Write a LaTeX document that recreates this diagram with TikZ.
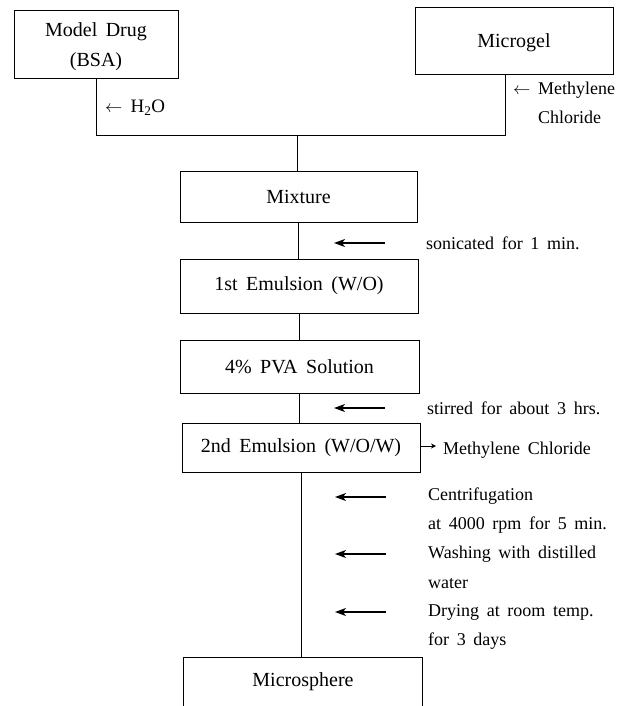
\documentclass[tikz,border=0pt]{standalone}
\usepackage{fontspec}
\setmainfont{Liberation Serif}[WordSpace=1.7]
\usetikzlibrary{arrows.meta}
\begin{document}
\begin{tikzpicture}[x=1pt,y=-1pt,
  box/.style={draw,line width=0.9pt,inner sep=0pt,align=center,font=\fontsize{20}{30}\selectfont},
  boxtext/.style={inner sep=0pt,align=center,font=\fontsize{20}{30}\selectfont},
  conn/.style={line width=0.9pt},
  side/.style={anchor=base west,inner sep=0pt,font=\fontsize{18}{22}\selectfont},
  larr/.style={line width=1.3pt,-{Stealth[length=11pt,width=8pt,inset=3pt]}},
  rarr/.style={line width=0.8pt,-{Stealth[length=5pt,width=5pt]}}]
\useasboundingbox (0,0) rectangle (625,706);
% boxes
\node[box,minimum width=164pt,minimum height=68pt] (md) at (96,44) {};
\node[boxtext] (mdt) at (96,47) {Model Drug\\(BSA)};
\node[box,minimum width=198pt,minimum height=67pt] (mg) at (514,40.5) {};
\node[boxtext] (mgt) at (514,43) {Microgel};
\node[box,minimum width=237pt,minimum height=51pt] (mix) at (298.5,196.5) {Mixture};
\node[box,minimum width=238pt,minimum height=54pt] (e1) at (299,286) {1st Emulsion (W/O)};
\node[box,minimum width=239pt,minimum height=53pt] (pva) at (299.5,366.5) {4\% PVA Solution};
\node[box,minimum width=238pt,minimum height=49pt] (e2) at (301,447.5) {2nd Emulsion (W/O/W)};
\node[boxtext,minimum width=238pt,minimum height=48pt] (ms) at (303,682) {Microsphere};
\draw[conn] (ms.south west) -- (ms.north west) -- (ms.north east) -- (ms.south east);
% top connectors
\coordinate (mgb) at (505,74);
\coordinate (j) at (297,135);
\draw[conn] (md.south) -- (md.south |- j) -- (mgb |- j) -- (mgb);
\draw[conn] (j) -- (j |- mix.north);
\node[side,font=\fontsize{19}{22}\selectfont] (h2o) at (105,113) {$\leftarrow$ H\textsubscript{2}O};
\node[side] (mc1) at (513,95) {$\leftarrow$ Methylene};
\node[side] (mc2) at (538,124) {Chloride};
% vertical connectors
\draw[conn] (mix.south) -- (mix.south |- e1.north);
\draw[conn] (e1.south) -- (e1.south |- pva.north);
\draw[conn] (pva.south) -- (pva.south |- e2.north);
\draw[conn] (e2.south) -- (e2.south |- ms.north);
% side arrows
\coordinate (a1s) at (385,243); \coordinate (a1e) at (334,243);
\coordinate (a2s) at (385,408); \coordinate (a2e) at (334,408);
\coordinate (a3s) at (386,497); \coordinate (a3e) at (335,497);
\coordinate (a4s) at (386,554); \coordinate (a4e) at (335,554);
\coordinate (a5s) at (386,612); \coordinate (a5e) at (335,612);
\draw[larr] (a1s) -- (a1e);
\draw[larr] (a2s) -- (a2e);
\draw[larr] (a3s) -- (a3e);
\draw[larr] (a4s) -- (a4e);
\draw[larr] (a5s) -- (a5e);
\node[side] (t1) at (426,249) {sonicated for 1 min.};
\node[side] (t2) at (427,414) {stirred for about 3 hrs.};
\node[side] (t3a) at (428,500) {Centrifugation};
\node[side] (t3b) at (428,529) {at 4000 rpm for 5 min.};
\node[side] (t4a) at (428,558) {Washing with distilled};
\node[side] (t4b) at (428,588) {water};
\node[side] (t5a) at (428,616) {Drying at room temp.};
\node[side] (t5b) at (428,645) {for 3 days};
% right arrow
\coordinate (rt) at (436,446);
\draw[rarr] (e2.east |- rt) -- (rt);
\node[side] (mc3) at (443,454) {Methylene Chloride};
\end{tikzpicture}
\end{document}
